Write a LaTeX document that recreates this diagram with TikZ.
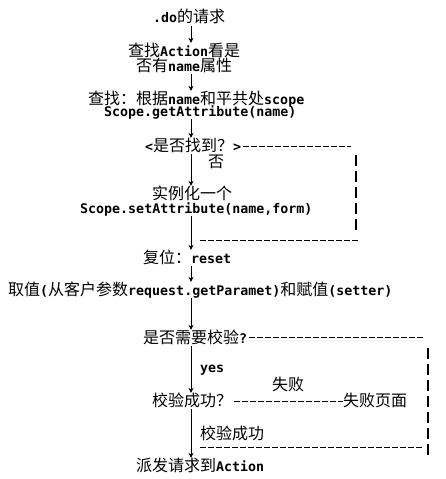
\documentclass[tikz,border=0pt]{standalone}
\usepackage{fontspec}
\setmonofont{DejaVu Sans Mono}
\newfontfamily\cjkfont{Noto Sans CJK SC}
\usetikzlibrary{arrows.meta}
\newcommand\zh[1]{{\cjkfont\mdseries\fontsize{16}{16}\selectfont #1}}
\begin{document}
\begin{tikzpicture}[x=1pt,y=-1pt,
  txt/.style={anchor=base west, inner sep=0pt, text height=13pt, text depth=3pt,
              font=\fontsize{13.3}{16}\selectfont\ttfamily\bfseries},
  arr/.style={line width=0.9pt, -{Stealth[length=5pt,width=5pt]}},
  dsh/.style={line width=0.8pt, dash pattern=on 6pt off 2pt},
  bar/.style={line width=1.7pt, dash pattern=on 10.5pt off 5.5pt}]
\fill[white] (0,0) rectangle (445,479);
\useasboundingbox (0,0) rectangle (445,479);
\coordinate (ax) at (191,0);

\node[txt] (n1)  at (153,23)  {.do\zh{的请求}};
\node[txt] (n2a) at (128,56)  {\zh{查找}Action\zh{看是}};
\node[txt] (n2b) at (136,71)  {\zh{否有}name\zh{属性}};
\node[txt] (n3a) at (88,104)  {\zh{查找：根据}name\zh{和平共处}scope};
\node[txt] (n3b) at (104,116) {Scope.getAttribute(name)};
\node[txt] (n4)  at (145,151) {<\zh{是否找到？}>};
\node[txt] (lno) at (208,167) {\zh{否}};
\node[txt] (n5a) at (152,199) {\zh{实例化一个}};
\node[txt] (n5b) at (80,213)  {Scope.setAttribute(name,form)};
\node[txt] (n6)  at (143,263) {\zh{复位：}reset};
\node[txt] (n7)  at (8,295)   {\zh{取值}(\zh{从客户参数}request.getParamet)\zh{和赋值}(setter)};
\node[txt] (n8)  at (143,343) {\zh{是否需要校验}?};
\node[txt] (lyes) at (200,372) {yes};
\node[txt] (lfail) at (272,390) {\zh{失败}};
\node[txt] (n9)  at (152,406) {\zh{校验成功？}};
\node[txt] (n9b) at (343,406) {\zh{失败页面}};
\node[txt] (lok) at (200,439) {\zh{校验成功}};
\node[txt] (n10) at (136,471) {\zh{派发请求到}Action};

\draw[arr] (n1.south -| ax)  -- (n2a.north -| ax);
\draw[arr] (n2b.south -| ax) -- (n3a.north -| ax);
\draw[arr] (n3b.south -| ax) -- (n4.north -| ax);
\draw[arr] (n4.south -| ax)  -- (n5a.north -| ax);
\draw[arr] (n5b.south -| ax) -- (n6.north -| ax);
\draw[arr] (n6.south -| ax)  -- (n7.north -| ax);
\draw[arr] (n7.south -| ax)  -- (n8.north -| ax);
\draw[arr] (n8.south -| ax)  -- (n9.north -| ax);
\draw[arr] (n9.south -| ax)  -- (n10.north -| ax);

\coordinate (d1e) at (351,146);
\coordinate (v1a) at (356,155);
\coordinate (v1b) at (356,232);
\coordinate (d2a) at (200,240);
\coordinate (d2b) at (358,240);
\coordinate (d3e) at (423,337);
\coordinate (v2a) at (428,348);
\coordinate (v2b) at (428,456);
\coordinate (d5a) at (200,447);
\coordinate (d5b) at (423,447);

\draw[dsh] (n4.east |- d1e) ++(2,0) -- (d1e);
\draw[bar] (v1a) -- (v1b);
\draw[dsh] (d2a) -- (d2b);
\draw[dsh] (n8.east |- d3e) ++(2,0) -- (d3e);
\draw[bar] (v2a) -- (v2b);
\draw[dsh] (n9.east) ++(2,0) -- (n9b.west);
\draw[dsh] (d5a) -- (d5b);
\end{tikzpicture}
\end{document}
